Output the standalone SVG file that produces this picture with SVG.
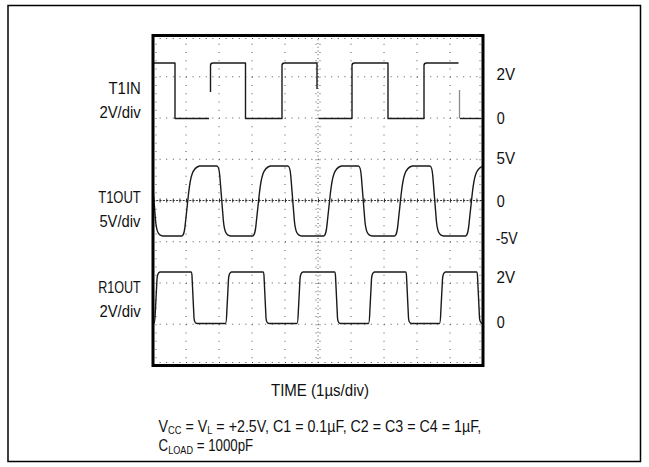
<svg xmlns="http://www.w3.org/2000/svg" width="649" height="467" viewBox="0 0 649 467">
<style>
.lbl{font-family:"Liberation Sans",Arial,sans-serif;font-size:17px;fill:#111}
.sub{font-size:11px}
.grid line{stroke:#555;stroke-width:1}
.gh{stroke-dasharray:1 5.6}
.gv{stroke-dasharray:1 7.25}
.tr{fill:none;stroke:#1a1a1a;stroke-width:1.4;stroke-linejoin:round}
.trg{fill:none;stroke:#8a8a8a;stroke-width:1.3}
</style>
<defs>
<clipPath id="plotclip"><rect x="154" y="37" width="328" height="327"/></clipPath>
</defs>
<rect id="frame" x="8" y="5.5" width="632.5" height="456" fill="#fff" stroke="#000" stroke-width="1.5"/>
<g id="grid" class="grid">
<g class="gh">
<line x1="153" y1="76.75" x2="483" y2="76.75"/>
<line x1="153" y1="118" x2="483" y2="118"/>
<line x1="153" y1="159.25" x2="483" y2="159.25"/>
<line x1="153" y1="241.75" x2="483" y2="241.75"/>
<line x1="153" y1="283" x2="483" y2="283"/>
<line x1="153" y1="324.25" x2="483" y2="324.25"/>
<line x1="153" y1="38.5" x2="483" y2="38.5"/>
<line x1="153" y1="362.5" x2="483" y2="362.5"/>
</g>
<g class="gv">
<line x1="186" y1="35.5" x2="186" y2="365.5"/>
<line x1="219" y1="35.5" x2="219" y2="365.5"/>
<line x1="252" y1="35.5" x2="252" y2="365.5"/>
<line x1="285" y1="35.5" x2="285" y2="365.5"/>
<line x1="351" y1="35.5" x2="351" y2="365.5"/>
<line x1="384" y1="35.5" x2="384" y2="365.5"/>
<line x1="417" y1="35.5" x2="417" y2="365.5"/>
<line x1="450" y1="35.5" x2="450" y2="365.5"/>
<line x1="156" y1="35.5" x2="156" y2="365.5"/>
<line x1="480" y1="35.5" x2="480" y2="365.5"/>
</g>
<line x1="316" y1="35.5" x2="316" y2="365.5" style="stroke-dasharray:1 7.25"/>
<line x1="318" y1="35.5" x2="318" y2="365.5" style="stroke-dasharray:1 2.75"/>
<line x1="320" y1="35.5" x2="320" y2="365.5" style="stroke-dasharray:1 7.25"/>
<line x1="153" y1="200.5" x2="483" y2="200.5" style="stroke:#333;stroke-dasharray:2 1.3"/>
<line x1="153" y1="200.5" x2="483" y2="200.5" style="stroke:#333;stroke-width:4;stroke-dasharray:1 5.6"/>
</g>
<g id="trace-t1in">
<path class="tr" d="M153,63 H175 V118.5 H209"/>
<path class="tr" d="M210.5,92 V65.5 Q210.5,63 213,63 H245.5 V118.5 H282 V65.5 Q282,63 284.5,63 H317 V89"/>
<path class="tr" d="M319,118.5 H352 V65.5 Q352,63 354.5,63 H388 V118.5 H424 V65.5 Q424,63 426.5,63 H458.5"/>
<path class="trg" d="M459.5,90 V118.5"/>
<path class="tr" d="M460,118.5 H481.5"/>
</g>
<g id="trace-t1out" clip-path="url(#plotclip)">
<path class="tr" d="M140,166 H149 C150.5,166 151.5,170 152,176 L155.5,220 C156.5,231 158,235.5 163,236 H181.5 C183.5,236 184.5,233 185.5,222 L188.5,194 C190.5,176 192.5,168 199.5,166 H216.8 C218.3,166 219.3,170 219.8,176 L223.3,220 C224.3,231 225.8,235.5 230.8,236 H252.3 C254.3,236 255.3,233 256.3,222 L259.3,194 C261.3,176 263.3,168 270.3,166 H287.8 C289.3,166 290.3,170 290.8,176 L294.3,220 C295.3,231 296.8,235.5 301.8,236 H323.3 C325.3,236 326.3,233 327.3,222 L330.3,194 C332.3,176 334.3,168 341.3,166 H358.3 C359.8,166 360.8,170 361.3,176 L364.8,220 C365.8,231 367.3,235.5 372.3,236 H394.2 C396.2,236 397.2,233 398.2,222 L401.2,194 C403.2,176 405.2,168 412.2,166 H429.8 C431.3,166 432.3,170 432.8,176 L436.3,220 C437.3,231 438.8,235.5 443.8,236 H465.2 C467.2,236 468.2,233 469.2,222 L472.2,194 C474.2,176 476.2,168 483.2,166"/>
</g>
<g id="trace-r1out" clip-path="url(#plotclip)">
<path class="tr" d="M150,323.5 H154 C154.5,323.5 155,320 155.3,312 L157,279 Q157.5,272.5 160,272 H191 Q191.8,272 192,276 L194,318 Q194.5,323.5 197,323.5 H225.5 C226,323.5 226.5,320 226.8,312 L228.5,279 Q229,272.5 231.5,272 H263 Q263.8,272 264,276 L266,318 Q266.5,323.5 269,323.5 H297 C297.5,323.5 298,320 298.3,312 L300,279 Q300.5,272.5 303,272 H334.5 Q335.3,272 335.5,276 L337.5,318 Q338,323.5 340.5,323.5 H368.5 C369,323.5 369.5,320 369.8,312 L371.5,279 Q372,272.5 374.5,272 H405.5 Q406.3,272 406.5,276 L408.5,318 Q409,323.5 411.5,323.5 H439.5 C440,323.5 440.5,320 440.8,312 L442.5,279 Q443,272.5 445.5,272 H476.5 Q477.3,272 477.5,276 L479.5,318 Q480,323.5 482.5,323.5 H486"/>
</g>
<rect id="plot-border" x="153" y="35.5" width="330" height="330" fill="none" stroke="#000" stroke-width="3"/>
<g id="labels-left">
<text class="lbl" x="108.5" y="93.5" textLength="32.3" lengthAdjust="spacingAndGlyphs">T1IN</text>
<text class="lbl" x="99.4" y="117.5" textLength="41.4" lengthAdjust="spacingAndGlyphs">2V/div</text>
<text class="lbl" x="98.2" y="203.3" textLength="42.6" lengthAdjust="spacingAndGlyphs">T1OUT</text>
<text class="lbl" x="99.4" y="227" textLength="41" lengthAdjust="spacingAndGlyphs">5V/div</text>
<text class="lbl" x="98.2" y="293.3" textLength="42.6" lengthAdjust="spacingAndGlyphs">R1OUT</text>
<text class="lbl" x="99.4" y="317.3" textLength="41.4" lengthAdjust="spacingAndGlyphs">2V/div</text>
</g>
<g id="labels-right">
<text class="lbl" x="496.5" y="80" textLength="18.6" lengthAdjust="spacingAndGlyphs">2V</text>
<text class="lbl" x="496.8" y="124" textLength="8" lengthAdjust="spacingAndGlyphs">0</text>
<text class="lbl" x="496.5" y="164" textLength="18.6" lengthAdjust="spacingAndGlyphs">5V</text>
<text class="lbl" x="496.8" y="207" textLength="8" lengthAdjust="spacingAndGlyphs">0</text>
<text class="lbl" x="495.8" y="243.5" textLength="22" lengthAdjust="spacingAndGlyphs">-5V</text>
<text class="lbl" x="496.5" y="282.7" textLength="18.6" lengthAdjust="spacingAndGlyphs">2V</text>
<text class="lbl" x="496.8" y="327.7" textLength="8" lengthAdjust="spacingAndGlyphs">0</text>
</g>
<g id="captions">
<text class="lbl" x="271" y="396" textLength="98" lengthAdjust="spacingAndGlyphs">TIME (1µs/div)</text>
<g transform="translate(158.6,431.7) scale(0.84,1)">
<text class="lbl" x="0" y="0">V<tspan class="sub" dy="2.5">CC</tspan><tspan dy="-2.5"> = V</tspan><tspan class="sub" dy="2.5">L</tspan><tspan dy="-2.5"> =  +2.5V, C1 = 0.1µF, C2 = C3 = C4 = 1µF,</tspan></text>
</g>
<g transform="translate(158.6,451.2) scale(0.83,1)">
<text class="lbl" x="0" y="0" style="font-size:16px">C<tspan class="sub" dy="2.5">LOAD</tspan><tspan dy="-2.5"> = 1000pF</tspan></text>
</g>
</g>
</svg>
